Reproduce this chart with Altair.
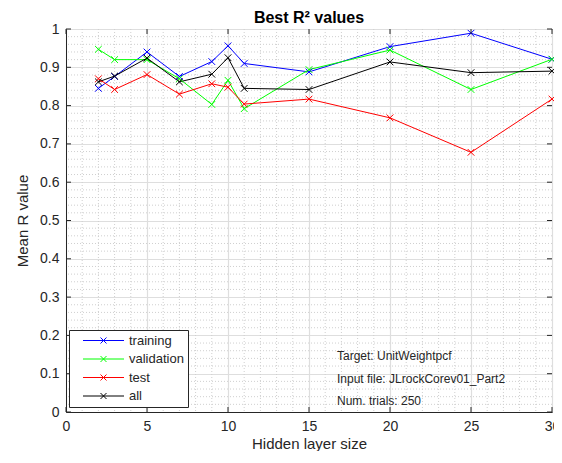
import altair as alt
import pandas as pd

hidden = [2, 3, 5, 7, 9, 10, 11, 15, 20, 25, 30]
training = [0.845, 0.876, 0.940, 0.876, 0.915, 0.956, 0.910, 0.888, 0.954, 0.989, 0.921]
validation = [0.947, 0.920, 0.920, 0.870, 0.803, 0.866, 0.792, 0.894, 0.945, 0.842, 0.921]
test = [0.870, 0.842, 0.881, 0.830, 0.857, 0.848, 0.804, 0.817, 0.768, 0.678, 0.817]
all_ = [0.862, 0.877, 0.924, 0.862, 0.882, 0.925, 0.845, 0.842, 0.914, 0.886, 0.890]

series_names = ["training", "validation", "test", "all"]
series_colors = ["#0000FF", "#00FF00", "#FF0000", "#000000"]

x_major = [0, 5, 10, 15, 20, 25, 30]
y_major = [0, 0.1, 0.2, 0.3, 0.4, 0.5, 0.6, 0.7, 0.8, 0.9, 1]
x_minor = [1, 2, 3, 4, 6, 7, 8, 9, 11, 12, 13, 14, 16, 17, 18, 19, 21, 22, 23, 24, 26, 27, 28, 29]
y_minor = [0.02, 0.04, 0.06, 0.08, 0.12, 0.14, 0.16, 0.18, 0.22, 0.24, 0.26, 0.28,
           0.32, 0.34, 0.36, 0.38, 0.42, 0.44, 0.46, 0.48, 0.52, 0.54, 0.56, 0.58,
           0.62, 0.64, 0.66, 0.68, 0.72, 0.74, 0.76, 0.78, 0.82, 0.84, 0.86, 0.88,
           0.92, 0.94, 0.96, 0.98]

notes = ["Target: UnitWeightpcf", "Input file: JLrockCorev01_Part2", "Num. trials: 250"]

W, H = 486, 383
TXT = "#262626"
FONT = "Liberation Sans"

rows = []
for name, vals in zip(series_names, [training, validation, test, all_]):
    for h, v in zip(hidden, vals):
        rows.append({"hidden": h, "value": v, "series": name})
df = pd.DataFrame(rows)

xscale = alt.Scale(domain=[0, 30], nice=False, zero=False)
yscale = alt.Scale(domain=[0, 1], nice=False)

xaxis = alt.Axis(
    values=x_major, title="Hidden layer size", ticks=False, labelPadding=7,
    titlePadding=3, gridColor="#dedede", gridWidth=1.2, labelFlush=False,
    labelOverlap=False, labelFontSize=14,
)
yaxis = alt.Axis(
    values=y_major, format=".1~f", title="Mean R value", ticks=False,
    labelPadding=7, titlePadding=9, gridColor="#dedede", gridWidth=1.2,
    labelOverlap=False, labelFlush=False, labelFontSize=14,
)

color = alt.Color(
    "series:N",
    scale=alt.Scale(domain=series_names, range=series_colors),
    legend=alt.Legend(
        title=None,
        orient="none",
        legendX=3,
        legendY=301,
        symbolType="M-4.1,0L4.1,0M-0.6,-0.6L0.6,0.6M-0.6,0.6L0.6,-0.6",
        symbolSize=100,
        symbolStrokeWidth=1,
        symbolFillColor="transparent",
        labelFont=FONT,
        labelFontSize=13,
        labelColor=TXT,
        labelOffset=19,
        padding=4,
        symbolOffset=24,
        rowPadding=4.5,
        strokeColor="#262626",
        fillColor="white",
        cornerRadius=0,
    ),
)

base = alt.Chart(df).encode(
    x=alt.X("hidden:Q", scale=xscale, axis=xaxis),
    y=alt.Y("value:Q", scale=yscale, axis=yaxis),
    color=color,
)
lines = base.mark_line(strokeWidth=1)
points = base.mark_point(
    shape="M-1,-1L1,1M-1,1L1,-1", size=45, filled=False, strokeWidth=1, opacity=1
)

minor_x = alt.Chart(pd.DataFrame({"v": x_minor})).mark_rule(
    color="#cfcfcf", strokeDash=[1, 2], strokeWidth=1
).encode(x=alt.X("v:Q", scale=xscale, axis=xaxis))
minor_y = alt.Chart(pd.DataFrame({"v": y_minor})).mark_rule(
    color="#cfcfcf", strokeDash=[1, 2], strokeWidth=1
).encode(y=alt.Y("v:Q", scale=yscale, axis=yaxis))

xt = pd.DataFrame({"v": x_major})
yt = pd.DataFrame({"v": y_major})
tick_b = alt.Chart(xt).mark_rule(color=TXT).encode(
    x=alt.X("v:Q", scale=xscale, axis=xaxis), y=alt.value(H), y2=alt.value(H - 5))
tick_t = alt.Chart(xt).mark_rule(color=TXT).encode(
    x=alt.X("v:Q", scale=xscale, axis=xaxis), y=alt.value(0), y2=alt.value(5))
tick_l = alt.Chart(yt).mark_rule(color=TXT).encode(
    y=alt.Y("v:Q", scale=yscale, axis=yaxis), x=alt.value(0), x2=alt.value(5))
tick_r = alt.Chart(yt).mark_rule(color=TXT).encode(
    y=alt.Y("v:Q", scale=yscale, axis=yaxis), x=alt.value(W), x2=alt.value(W - 5))

note = alt.Chart(pd.DataFrame({"t": ["\n".join(notes)]})).mark_text(
    align="left", baseline="middle", font=FONT, fontSize=12, color=TXT,
    lineBreak="\n", lineHeight=22.5,
).encode(text="t:N", x=alt.value(271), y=alt.value(327))

chart = alt.layer(
    minor_x, minor_y, lines, points, tick_b, tick_t, tick_l, tick_r, note
).properties(
    width=W,
    height=H,
    title=alt.Title("Best R² values", font=FONT, fontSize=16, fontWeight="bold",
                    color="#000000", offset=-4, frame="group"),
    autosize=alt.AutoSizeParams(type="none"),
    padding={"left": 58, "top": 21, "right": 2, "bottom": 39},
).configure_view(
    stroke=TXT, strokeWidth=1
).configure_axis(
    labelFont=FONT, labelFontSize=14, labelColor=TXT,
    titleFont=FONT, titleFontSize=15, titleFontWeight="normal", titleColor=TXT,
    domainColor=TXT, domainWidth=1,
)

chart.save("out.html", embed_options={"renderer": "svg", "actions": False})
